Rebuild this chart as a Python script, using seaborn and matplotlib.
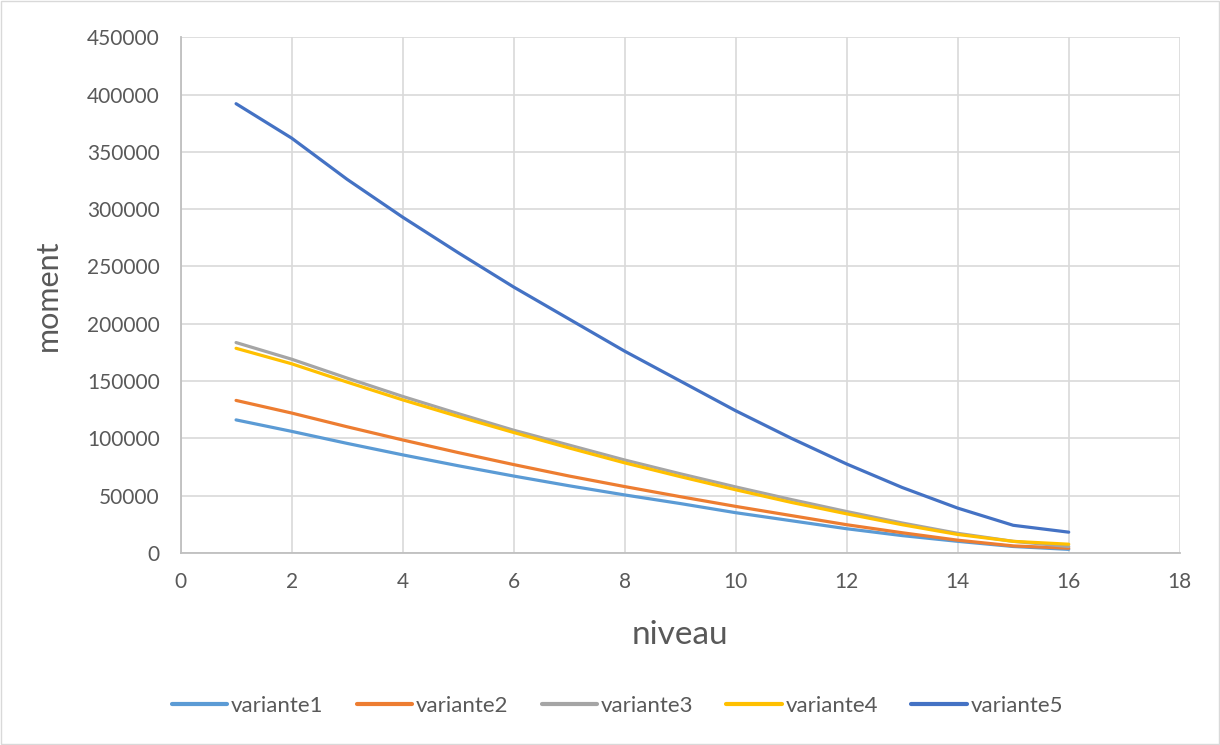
import pandas as pd
import seaborn as sns
import matplotlib.pyplot as plt

# donnees
niveau = list(range(1, 17))
variante1 = [116000, 106000, 95500, 85500, 76000, 67000, 58500, 50500,
             43000, 35000, 28000, 21000, 15000, 10000, 5500, 3000]
variante2 = [133000, 122000, 110000, 98500, 87500, 77000, 67000, 57800,
             49000, 40500, 32500, 24500, 17500, 11000, 6000, 4000]
variante3 = [183500, 169000, 152500, 136500, 121500, 107000, 94000, 81000,
             69000, 57500, 46500, 36000, 26000, 17000, 10000, 5500]
variante4 = [178500, 165000, 149000, 133500, 119000, 105000, 91500, 78500,
             66500, 55000, 44000, 34000, 24500, 16000, 10000, 7500]
variante5 = [392000, 362000, 326000, 293000, 262000, 232000, 204000, 176000,
             150000, 124000, 100000, 77500, 57000, 39000, 24000, 18000]

series = {'variante1': variante1, 'variante2': variante2, 'variante3': variante3,
          'variante4': variante4, 'variante5': variante5}
df = pd.DataFrame([(n, k, v) for k, vals in series.items() for n, v in zip(niveau, vals)],
                  columns=['niveau', 'variante', 'moment'])

couleurs = {'variante1': '#5B9BD5', 'variante2': '#ED7D31', 'variante3': '#A5A5A5',
            'variante4': '#FFC000', 'variante5': '#4472C4'}

sns.set_style('white')
plt.rcParams['font.family'] = ['Lato', 'DejaVu Sans']
texte = '#595959'

fig = plt.figure(figsize=(12.2, 7.45), dpi=100)
ax = fig.add_axes([0.148, 0.258, 0.819, 0.692])
sns.lineplot(data=df, x='niveau', y='moment', hue='variante', palette=couleurs,
             linewidth=2.3, ax=ax, legend=False)

ax.set_xlim(0, 18)
ax.set_ylim(0, 450000)
ax.set_xticks(range(0, 19, 2))
ax.set_yticks(range(0, 450001, 50000))
ax.grid(True, color='#D9D9D9', linewidth=1.2)
ax.set_axisbelow(True)
for s in ['top', 'right']:
    ax.spines[s].set_visible(False)
for s in ['left', 'bottom']:
    ax.spines[s].set_color('#BFBFBF')
    ax.spines[s].set_linewidth(1.3)
ax.tick_params(length=0, labelsize=15, colors=texte)
ax.tick_params(axis='x', pad=14)
ax.tick_params(axis='y', pad=15)
ax.set_xlabel('niveau', fontsize=24, color=texte, labelpad=20)
ax.set_ylabel('moment', fontsize=22, color=texte, labelpad=18)

handles = [plt.Line2D([], [], color=couleurs[k], linewidth=3) for k in series]
fig.legend(handles, list(series), loc='center', bbox_to_anchor=(0.506, 0.052), ncol=5,
           frameon=False, fontsize=16, handlelength=2.48, handletextpad=0.18,
           columnspacing=1.5, labelcolor=texte)

fig.patches.append(plt.Rectangle((0.001, 0.001), 0.998, 0.998, transform=fig.transFigure,
                                 fill=False, edgecolor='#D9D9D9', linewidth=1))
fig.savefig('out.png', dpi=100)
